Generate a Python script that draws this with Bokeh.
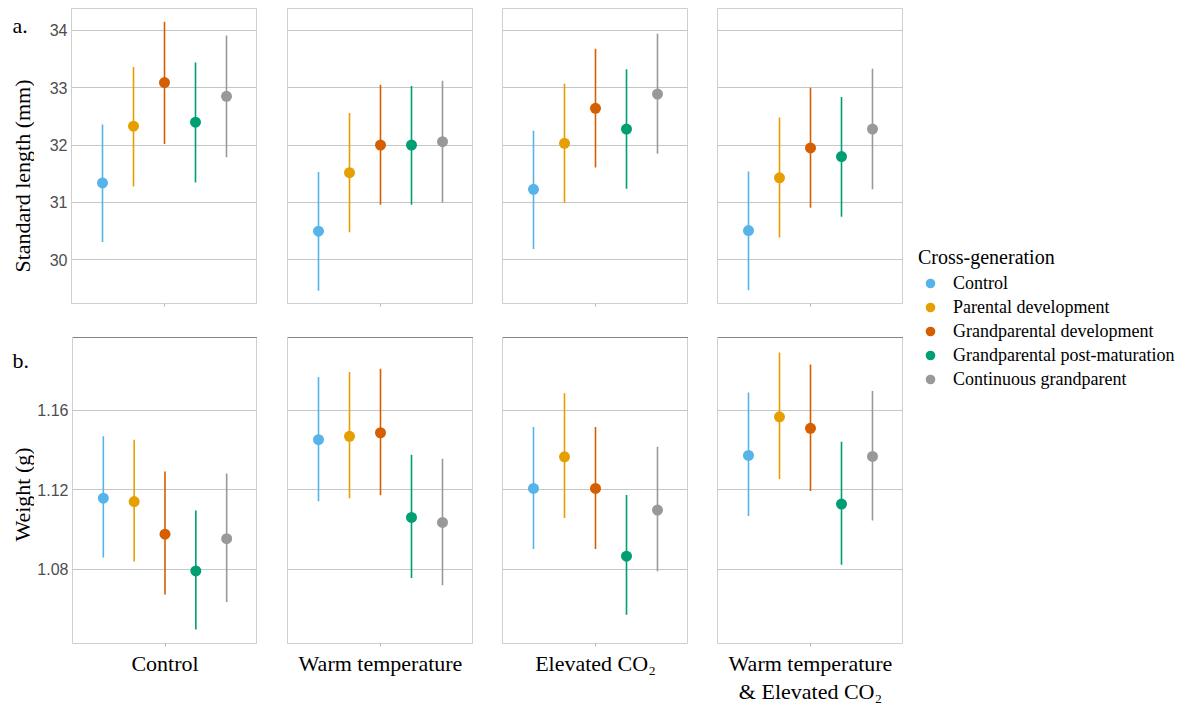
import numpy as np
from bokeh.plotting import figure
from bokeh.models import Range1d, FixedTicker, Label, Span, Legend, LegendItem, Grid, ColumnDataSource
from bokeh.layouts import row, column
from bokeh.embed import file_html
from bokeh.resources import INLINE

treatments = ["Control", "Warm temperature", "Elevated CO\u2082", "Warm temperature\n& Elevated CO\u2082"]
groups = ["Control", "Parental development", "Grandparental development",
          "Grandparental post-maturation", "Continuous grandparent"]
colors = ["#56B4E9", "#E69F00", "#D55E00", "#009E73", "#999999"]

# Standard length (mm): rows = treatments, columns = groups
sl_mean = [[31.34, 32.33, 33.09, 32.40, 32.85],
           [30.50, 31.52, 32.00, 32.00, 32.06],
           [31.23, 32.03, 32.64, 32.28, 32.89],
           [30.51, 31.43, 31.95, 31.80, 32.28]]
sl_low = [[30.31, 31.28, 32.02, 31.35, 31.79],
          [29.46, 30.48, 30.96, 30.96, 31.00],
          [30.19, 30.99, 31.61, 31.24, 31.85],
          [29.47, 30.39, 30.91, 30.75, 31.23]]
sl_high = [[32.36, 33.36, 34.15, 33.44, 33.91],
           [31.53, 32.56, 33.05, 33.03, 33.12],
           [32.25, 33.07, 33.68, 33.32, 33.94],
           [31.54, 32.48, 33.00, 32.84, 33.33]]

# Weight (g)
wt_mean = [[1.1158, 1.1141, 1.0977, 1.0792, 1.0954],
           [1.1452, 1.1469, 1.1487, 1.1061, 1.1036],
           [1.1207, 1.1366, 1.1207, 1.0866, 1.1098],
           [1.1373, 1.1567, 1.1509, 1.1128, 1.1368]]
wt_low = [[1.0860, 1.0840, 1.0674, 1.0497, 1.0636],
          [1.1143, 1.1158, 1.1173, 1.0757, 1.0720],
          [1.0902, 1.1058, 1.0902, 1.0571, 1.0790],
          [1.1068, 1.1254, 1.1194, 1.0823, 1.1046]]
wt_high = [[1.1469, 1.1452, 1.1292, 1.1096, 1.1282],
           [1.1767, 1.1792, 1.1809, 1.1376, 1.1356],
           [1.1516, 1.1686, 1.1516, 1.1174, 1.1416],
           [1.1690, 1.1890, 1.1830, 1.1442, 1.1697]]

sl_ticks = [30, 31, 32, 33, 34]
wt_ticks = [1.08, 1.12, 1.16]
sl_range = (29.24, 34.38)
wt_range = (1.0427, 1.1966)

SERIF = "Liberation Serif"
SANS = "Liberation Sans"
FRAME_W = 186
STRIP_W = 34
LEFTS = [37, 30, 29, 29]
TOP_H = 320
BOT_H = 386
TOTAL_H = TOP_H + BOT_H
GRID_C = "#c6c6c6"
OUTLINE_C = "#cfcfcf"


def make_panel(k, mean, low, high, yr, yticks, top_row):
    h = TOP_H if top_row else BOT_H
    p = figure(width=LEFTS[k] + FRAME_W, height=h,
               x_range=Range1d(0.4, 1.6), y_range=Range1d(*yr),
               output_backend="svg", toolbar_location=None,
               min_border_left=LEFTS[k], min_border_right=0,
               min_border_top=8 if top_row else 17,
               min_border_bottom=17 if top_row else 60,
               y_axis_location="left" if k == 0 else None)
    p.background_fill_color = "white"
    p.border_fill_color = "white"
    p.outline_line_color = OUTLINE_C
    p.outline_line_width = 1
    p.grid.visible = False
    if k == 0:
        ya = p.yaxis[0]
        ya.ticker = FixedTicker(ticks=yticks)
        ya.axis_line_color = None
        ya.major_tick_line_color = None
        ya.minor_tick_line_color = None
        ya.major_tick_out = 0
        ya.major_tick_in = 0
        ya.major_label_standoff = 4
        ya.major_label_text_font = SANS
        ya.major_label_text_font_size = "16px"
        ya.major_label_text_color = "#4d4d4d"
    p.add_layout(Grid(dimension=1, ticker=FixedTicker(ticks=yticks),
                      grid_line_color=GRID_C, grid_line_width=1))

    xa = p.xaxis[0]
    xa.ticker = FixedTicker(ticks=[1])
    xa.axis_line_color = None
    xa.minor_tick_line_color = None
    xa.major_tick_line_color = "#b5b5b5"
    xa.major_tick_out = 3
    xa.major_tick_in = 0
    if top_row:
        xa.major_label_overrides = {1: ""}
        xa.major_label_text_font_size = "0px"
        xa.major_label_standoff = 0
    else:
        xa.major_label_overrides = {1: treatments[k]}
        xa.major_label_text_font = SERIF
        xa.major_label_text_font_size = "22px"
        xa.major_label_text_color = "black"
        xa.major_label_standoff = 4
        xa.major_label_text_line_height = 1.12

    xs = [1 + (i - 2) * 0.2 for i in range(len(groups))]
    src = ColumnDataSource(dict(x=xs, m=mean, lo=low, hi=high, c=colors))
    p.segment(x0="x", y0="lo", x1="x", y1="hi", source=src, line_color="c", line_width=1.6)
    p.scatter(x="x", y="m", source=src, size=11, fill_color="c", line_color=None)
    if not top_row:
        p.add_layout(Span(location=yr[1], dimension="width", line_color="#3a3a3a", line_width=1))
    return p


top = [make_panel(k, sl_mean[k], sl_low[k], sl_high[k], sl_range, sl_ticks, True) for k in range(4)]
bot = [make_panel(k, wt_mean[k], wt_low[k], wt_high[k], wt_range, wt_ticks, False) for k in range(4)]

# left strip holding the panel letters and the y titles (1 data unit = 1 px)
strip = figure(width=STRIP_W, height=TOTAL_H, x_range=Range1d(0, STRIP_W), y_range=Range1d(0, TOTAL_H),
               output_backend="svg", toolbar_location=None,
               x_axis_location=None, y_axis_location=None,
               min_border_left=0, min_border_right=0, min_border_top=0, min_border_bottom=0)
strip.outline_line_color = None
strip.grid.visible = False
label_style = dict(text_font=SERIF, text_font_size="22px", text_color="black")
strip.add_layout(Label(x=12, y=TOTAL_H - 25, text="a.", text_baseline="alphabetic",
                       text_align="left", **label_style))
strip.add_layout(Label(x=12, y=TOTAL_H - 360, text="b.", text_baseline="alphabetic",
                       text_align="left", **label_style))
strip.add_layout(Label(x=22, y=TOTAL_H - 175.5, text="Standard length (mm)", angle=np.pi / 2,
                       text_baseline="middle", text_align="center", **label_style))
strip.add_layout(Label(x=21.5, y=TOTAL_H - 494, text="Weight (g)", angle=np.pi / 2,
                       text_baseline="middle", text_align="center", **label_style))

# legend figure (helper glyphs lie outside its visible ranges)
LEG_W = 1188 - STRIP_W - sum(LEFTS) - 4 * FRAME_W
lg = figure(width=LEG_W, height=TOTAL_H, x_range=Range1d(0, 0.5), y_range=Range1d(0, 1),
            output_backend="svg", toolbar_location=None,
            x_axis_location=None, y_axis_location=None,
            min_border_left=0, min_border_right=0, min_border_top=0, min_border_bottom=0)
lg.outline_line_color = None
lg.grid.visible = False

items = []
for i, (g, c) in enumerate(zip(groups, colors)):
    r_pt = lg.scatter(x=[1.0], y=[sl_mean[0][i]], marker="circle", size=11,
                      fill_color=c, line_color=None)
    items.append(LegendItem(label=g, renderers=[r_pt]))

legend = Legend(items=items, title="Cross-generation",
                location=(15, 315), spacing=0,
                border_line_color=None, background_fill_alpha=0, padding=0, margin=0,
                glyph_width=24, glyph_height=24, label_height=20,
                label_standoff=11, title_standoff=2,
                label_text_font=SERIF, label_text_font_size="18px", label_text_color="black",
                title_text_font=SERIF, title_text_font_size="20px",
                title_text_font_style="normal", title_text_color="black")
lg.add_layout(legend)

layout = row(strip, column(row(*top), row(*bot)), lg)
open("out.html", "w").write(file_html(layout, INLINE))
